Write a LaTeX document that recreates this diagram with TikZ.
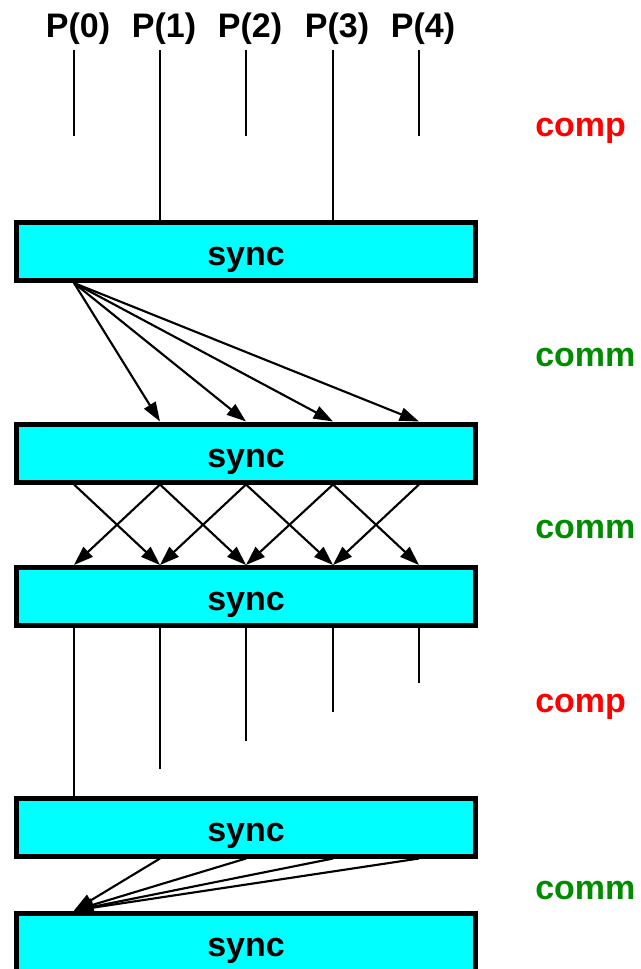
\documentclass[tikz,border=0pt]{standalone}
\usepackage{fontspec}
\setmainfont{Liberation Sans}
\usetikzlibrary{arrows.meta}
\definecolor{syncfill}{RGB}{0,255,255}
\definecolor{compred}{RGB}{255,0,0}
\definecolor{commgreen}{RGB}{0,140,0}
\begin{document}
\begin{tikzpicture}[x=0.75pt,y=-0.75pt,
  bigtext/.style={font=\fontsize{25.5}{29}\selectfont\bfseries},
  syncbox/.style={draw=black,line width=3.75pt,fill=syncfill,
    minimum width=344.25pt,minimum height=43.5pt,inner sep=0pt,
    text height=22pt,text depth=0.5pt,bigtext},
  proclabel/.style={bigtext,inner sep=0pt},
  phase/.style={bigtext,anchor=west,inner sep=0pt},
  wire/.style={line width=1.6pt},
  msg/.style={line width=1.6pt,-{Triangle[length=14.5pt,width=10pt]}}]
\useasboundingbox (0,0) rectangle (640,969);

% the five synchronisation barriers
\node[syncbox] (s1) at (246,251.5) {sync};
\node[syncbox] (s2) at (246,453) {sync};
\node[syncbox] (s3) at (246,596.5) {sync};
\node[syncbox] (s4) at (246,827) {sync};
\node[syncbox] (s5) at (246,942) {sync};

% processor columns, labels and named points on each barrier
\foreach \i/\x in {0/74,1/160,2/246,3/333,4/419}{
  \coordinate (col\i) at (\x,0);
  \node[proclabel] (P\i) at (\x+4,28.5) {P(\i)};
  \coordinate (t\i) at (\x,50);
  \coordinate (a\i) at (s1.south -| col\i);
  \coordinate (b\i) at (s2.north -| col\i);
  \coordinate (c\i) at (s2.south -| col\i);
  \coordinate (d\i) at (s3.north -| col\i);
  \coordinate (e\i) at (s3.south -| col\i);
  \coordinate (f\i) at (s4.south -| col\i);
}
\coordinate (g0) at (s4.north -| col0);
\coordinate (h0) at (s5.north -| col0);

% phase labels
\node[phase,text=compred]   (ph1) at (535,131) {comp};
\node[phase,text=commgreen] (ph2) at (535,358) {comm};
\node[phase,text=commgreen] (ph3) at (535,530) {comm};
\node[phase,text=compred]   (ph4) at (535,707) {comp};
\node[phase,text=commgreen] (ph5) at (535,890) {comm};

% first computation phase
\coordinate (u0) at (74,136);
\coordinate (u2) at (246,136);
\coordinate (u4) at (419,136);
\draw[wire] (t0) -- (u0);
\draw[wire] (t1) -- (s1.north -| col1);
\draw[wire] (t2) -- (u2);
\draw[wire] (t3) -- (s1.north -| col3);
\draw[wire] (t4) -- (u4);

% broadcast from processor 0
\foreach \j in {1,2,3,4}{
  \draw[msg] (a0) -- (b\j);
}

% exchange with neighbours
\foreach \i/\j in {0/1,1/0,1/2,2/1,2/3,3/2,3/4,4/3}{
  \draw[msg] (c\i) -- (d\j);
}

% second computation phase
\coordinate (v1) at (160,769);
\coordinate (v2) at (246,740.5);
\coordinate (v3) at (333,711.5);
\coordinate (v4) at (419,682.5);
\draw[wire] (e0) -- (g0);
\foreach \i in {1,2,3,4}{
  \draw[wire] (e\i) -- (v\i);
}

% gather to processor 0
\foreach \i in {1,2,3,4}{
  \draw[msg] (f\i) -- (h0);
}
\end{tikzpicture}
\end{document}
